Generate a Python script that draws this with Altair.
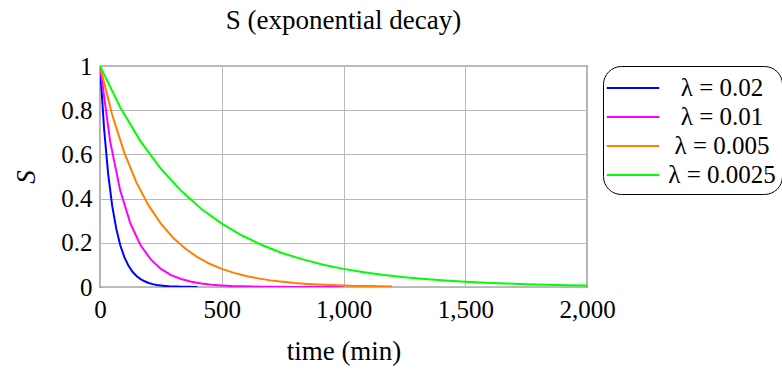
import altair as alt
import pandas as pd

labels = ["λ = 0.02", "λ = 0.01", "λ = 0.005", "λ = 0.0025"]
colors = ["#0000ff", "#ff00ff", "#ff8000", "#00ff00"]

t_blue = [0, 16.7, 33.3, 50, 66.7, 83.3, 100, 116.7, 133.3, 150, 166.7, 183.3, 200,
          216.7, 233.3, 250, 266.7, 283.3, 300, 316.7, 333.3, 350, 366.7, 383.3, 400]
s_blue = [1, 0.717, 0.513, 0.368, 0.264, 0.189, 0.135, 0.097, 0.069, 0.050, 0.036, 0.026, 0.018,
          0.013, 0.009, 0.007, 0.005, 0.003, 0.002, 0.002, 0.001, 0.001, 0.001, 0.0005, 0.0003]

t_mag = [0, 41.7, 83.3, 125, 166.7, 208.3, 250, 291.7, 333.3, 375, 416.7, 458.3, 500,
         541.7, 583.3, 625, 666.7, 708.3, 750, 791.7, 833.3, 875, 916.7, 958.3, 1000]
s_mag = [1, 0.659, 0.435, 0.287, 0.189, 0.125, 0.082, 0.054, 0.036, 0.024, 0.016, 0.010, 0.007,
         0.004, 0.003, 0.002, 0.001, 0.001, 0.001, 0.0004, 0.0002, 0.0002, 0.0001, 0.0001, 0.0]

t_org = [0, 50, 100, 150, 200, 250, 300, 350, 400, 450, 500, 550, 600,
         650, 700, 750, 800, 850, 900, 950, 1000, 1050, 1100, 1150, 1200]
s_org = [1, 0.779, 0.607, 0.472, 0.368, 0.287, 0.223, 0.174, 0.135, 0.105, 0.082, 0.064, 0.050,
         0.039, 0.030, 0.024, 0.018, 0.014, 0.011, 0.009, 0.007, 0.005, 0.004, 0.003, 0.002]

t_grn = [0, 83.3, 166.7, 250, 333.3, 416.7, 500, 583.3, 666.7, 750, 833.3, 916.7, 1000,
         1083.3, 1166.7, 1250, 1333.3, 1416.7, 1500, 1583.3, 1666.7, 1750, 1833.3, 1916.7, 2000]
s_grn = [1, 0.812, 0.659, 0.535, 0.435, 0.353, 0.287, 0.233, 0.189, 0.153, 0.125, 0.101, 0.082,
         0.067, 0.054, 0.044, 0.036, 0.029, 0.024, 0.019, 0.016, 0.013, 0.010, 0.008, 0.007]

rows = []
for lab, ts, ss in zip(labels, [t_blue, t_mag, t_org, t_grn], [s_blue, s_mag, s_org, s_grn]):
    for t, s in zip(ts, ss):
        rows.append({"series": lab, "time": t, "S": s})
df = pd.DataFrame(rows)

FONT = "Liberation Serif"

chart = alt.Chart(df).mark_line(strokeWidth=2, clip=True).encode(
    x=alt.X("time:Q", title="time (min)",
            scale=alt.Scale(domain=[0, 2000], nice=False),
            axis=alt.Axis(values=[0, 500, 1000, 1500, 2000], format=",d", titlePadding=16,
                          labelFlush=False, labelOverlap=False, labelPadding=10)),
    y=alt.Y("S:Q", title="S",
            scale=alt.Scale(domain=[0, 1], nice=False),
            axis=alt.Axis(values=[0, 0.2, 0.4, 0.6, 0.8, 1], format="~g",
                          titleFontStyle="italic", titlePadding=20,
                          labelFlush=False, labelOverlap=False, labelPadding=8)),
    color=alt.Color("series:N", sort=labels,
                    scale=alt.Scale(domain=labels, range=colors),
                    legend=alt.Legend(title=None, orient="none", legendX=503, legendY=0,
                                      symbolType="M-1.8,0H1.8", symbolSize=850,
                                      symbolStrokeWidth=2, symbolOffset=8,
                                      strokeColor="black", cornerRadius=18, padding=6,
                                      labelFontSize=25, labelColor="black", labelAlign="center",
                                      rowPadding=0, labelOffset=73)),
    order="time:Q",
).properties(
    width=487, height=221,
    title=alt.TitleParams("S (exponential decay)"),
    autosize=alt.AutoSizeParams(type="none"),
    padding={"left": 100, "top": 66, "right": 195, "bottom": 82},
).configure_title(
    font=FONT, fontSize=27, fontWeight="normal", color="black", offset=19, anchor="middle"
).configure_legend(
    labelFont=FONT
).configure_view(
    stroke="black", strokeWidth=1.2
).configure_axis(
    labelFont=FONT, labelFontSize=25, labelColor="black",
    titleFont=FONT, titleFontSize=27, titleFontWeight="normal", titleColor="black",
    gridColor="#b8b8b8", gridWidth=1, domain=False, ticks=False
).configure_axisY(
    titleAngle=-90
)

chart.save("out.html", embed_options={"renderer": "svg", "actions": False})
